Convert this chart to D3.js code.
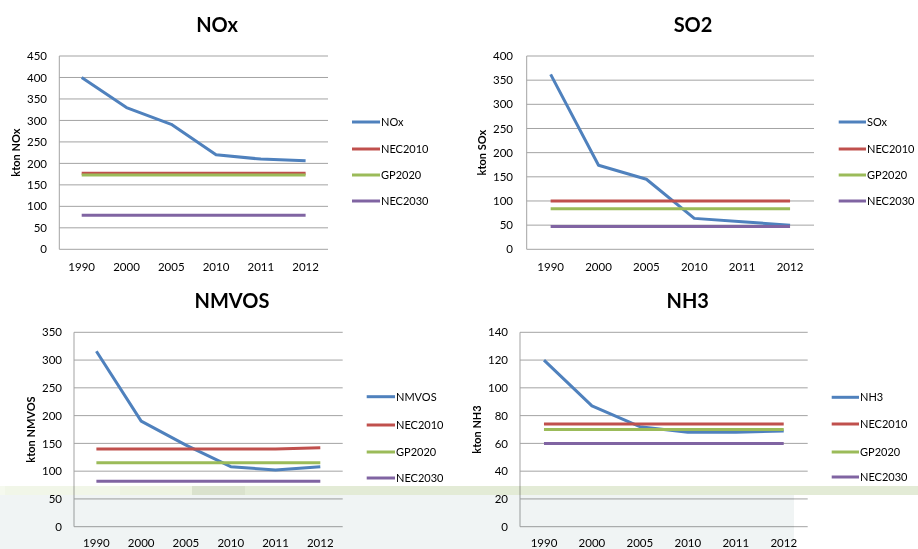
<!DOCTYPE html>
<html>
<head>
<meta charset="utf-8">
<script src="https://cdn.jsdelivr.net/npm/d3@7"></script>
<style>
  html, body { margin: 0; padding: 0; background: #fff; }
  svg { display: block; }
  text { font-family: Lato, "Open Sans", sans-serif; fill: #000; }
</style>
</head>
<body>
<svg id="chart" width="918" height="549"></svg>
<script>
// ---- data ----
const years = ["1990", "2000", "2005", "2010", "2011", "2012"];
const seriesNames = ["NEC2010", "GP2020", "NEC2030"];

const noxValues     = [400, 330, 291, 220, 210, 206];
const noxNec2010    = [177, 177, 177, 177, 177, 177];
const noxGp2020     = [173, 173, 173, 173, 173, 173];
const noxNec2030    = [79, 79, 79, 79, 79, 79];
const noxTicks      = [0, 50, 100, 150, 200, 250, 300, 350, 400, 450];

const soxValues     = [362, 174, 145, 64, 57, 50];
const soxNec2010    = [100, 100, 100, 100, 100, 100];
const soxGp2020     = [84, 84, 84, 84, 84, 84];
const soxNec2030    = [47, 47, 47, 47, 47, 47];
const soxTicks      = [0, 50, 100, 150, 200, 250, 300, 350, 400];

const nmvosValues   = [316, 190, 147, 108, 102, 108];
const nmvosNec2010  = [140, 140, 140, 140, 140, 142];
const nmvosGp2020   = [115, 115, 115, 115, 115, 115];
const nmvosNec2030  = [82, 82, 82, 82, 82, 82];
const nmvosTicks    = [0, 50, 100, 150, 200, 250, 300, 350];

const nh3Values     = [120, 87, 72, 68, 68, 69];
const nh3Nec2010    = [74, 74, 74, 74, 74, 74];
const nh3Gp2020     = [70, 70, 70, 70, 70, 70];
const nh3Nec2030    = [60, 60, 60, 60, 60, 60];
const nh3Ticks      = [0, 20, 40, 60, 80, 100, 120, 140];

// ---- layout / style ----
const colors = ["#4f81bd", "#c0504d", "#9bbb59", "#8064a2"];

const panels = [
  { title: "NOx", main: "NOx", yTitle: "kton NOx",
    data: [noxValues, noxNec2010, noxGp2020, noxNec2030], ticks: noxTicks,
    left: 59.3, right: 328, top: 56, bottom: 249.3, titleX: 217, titleY: 32,
    yTitleX: 16, lgX1: 352, lgX2: 380, lgY: [122, 149, 175, 201], tickRight: 47, xLabDy: 21.5 },
  { title: "SO2", main: "SOx", yTitle: "kton SOx",
    data: [soxValues, soxNec2010, soxGp2020, soxNec2030], ticks: soxTicks,
    left: 526.7, right: 814, top: 56, bottom: 249.3, titleX: 693, titleY: 32,
    yTitleX: 482.5, lgX1: 838.7, lgX2: 866, lgY: [122, 149, 175, 201], tickRight: 513, xLabDy: 21.5 },
  { title: "NMVOS", main: "NMVOS", yTitle: "kton NMVOS",
    data: [nmvosValues, nmvosNec2010, nmvosGp2020, nmvosNec2030], ticks: nmvosTicks,
    left: 74, right: 342.7, top: 332.3, bottom: 526.7, titleX: 232, titleY: 308,
    yTitleX: 31, lgX1: 366.7, lgX2: 395, lgY: [396.7, 425, 452, 478], tickRight: 62, xLabDy: 20.3 },
  { title: "NH3", main: "NH3", yTitle: "kton NH3",
    data: [nh3Values, nh3Nec2010, nh3Gp2020, nh3Nec2030], ticks: nh3Ticks,
    left: 520, right: 807.7, top: 332.3, bottom: 526.7, titleX: 687.7, titleY: 308,
    yTitleX: 477, lgX1: 831.7, lgX2: 859, lgY: [397.3, 424, 452, 477], tickRight: 508, xLabDy: 20.3 }
];

const svg = d3.select("#chart");

panels.forEach(p => {
  const g = svg.append("g");
  const x = d3.scalePoint().domain(years).range([p.left, p.right]).padding(0.5);
  const y = d3.scaleLinear().domain([0, d3.max(p.ticks)]).range([p.bottom, p.top]);

  // gridlines
  g.selectAll("line.grid").data(p.ticks).enter().append("line")
    .attr("x1", p.left).attr("x2", p.right)
    .attr("y1", d => y(d)).attr("y2", d => y(d))
    .attr("stroke", "#a3a3a3").attr("stroke-width", 1);

  // y axis line
  g.append("line").attr("x1", p.left).attr("x2", p.left)
    .attr("y1", p.top).attr("y2", p.bottom)
    .attr("stroke", "#a3a3a3").attr("stroke-width", 1);

  // y tick labels
  g.selectAll("text.yt").data(p.ticks).enter().append("text")
    .attr("x", p.tickRight).attr("y", d => y(d))
    .attr("dy", "0.36em").attr("text-anchor", "end")
    .attr("font-size", 11.5).text(d => d);

  // x tick labels
  g.selectAll("text.xt").data(years).enter().append("text")
    .attr("x", d => x(d)).attr("y", p.bottom + p.xLabDy)
    .attr("text-anchor", "middle").attr("font-size", 11.5).text(d => d);

  // title
  g.append("text").attr("x", p.titleX).attr("y", p.titleY)
    .attr("text-anchor", "middle").attr("font-size", 20).attr("font-weight", "bold")
    .text(p.title);

  // y title
  const cy = (p.top + p.bottom) / 2;
  g.append("text")
    .attr("transform", `translate(${p.yTitleX},${cy}) rotate(-90)`)
    .attr("dy", "0.35em").attr("text-anchor", "middle")
    .attr("font-size", 11).attr("font-weight", "bold").text(p.yTitle);

  // lines
  const line = d3.line().x((d, i) => x(years[i])).y(d => y(d));
  p.data.forEach((vals, k) => {
    g.append("path").datum(vals).attr("d", line)
      .attr("fill", "none").attr("stroke", colors[k])
      .attr("stroke-width", 3).attr("stroke-linejoin", "round");
  });

  // legend
  const names = [p.main].concat(seriesNames);
  names.forEach((n, k) => {
    g.append("line").attr("x1", p.lgX1).attr("x2", p.lgX2)
      .attr("y1", p.lgY[k]).attr("y2", p.lgY[k])
      .attr("stroke", colors[k]).attr("stroke-width", 3);
    g.append("text").attr("x", p.lgX2 + 1).attr("y", p.lgY[k])
      .attr("dy", "0.36em").attr("font-size", 11).text(n);
  });
});

// slide background overlay bands (multiply blend so chart shows through)
const bands = [
  { x: 0, y: 486, w: 5, h: 9, c: "#f5f9ee" },
  { x: 5, y: 486, w: 115, h: 9, c: "#f1f6e8" },
  { x: 120, y: 486, w: 72, h: 9, c: "#edf3e1" },
  { x: 192, y: 486, w: 53, h: 9, c: "#dae2cd" },
  { x: 245, y: 486, w: 673, h: 9, c: "#e3ebd6" },
  { x: 0, y: 495, w: 794, h: 54, c: "#f0f4f4" }
];
svg.append("g").selectAll("rect").data(bands).enter().append("rect")
  .attr("x", d => d.x).attr("y", d => d.y).attr("width", d => d.w).attr("height", d => d.h)
  .attr("fill", d => d.c).style("mix-blend-mode", "multiply");
</script>
</body>
</html>
